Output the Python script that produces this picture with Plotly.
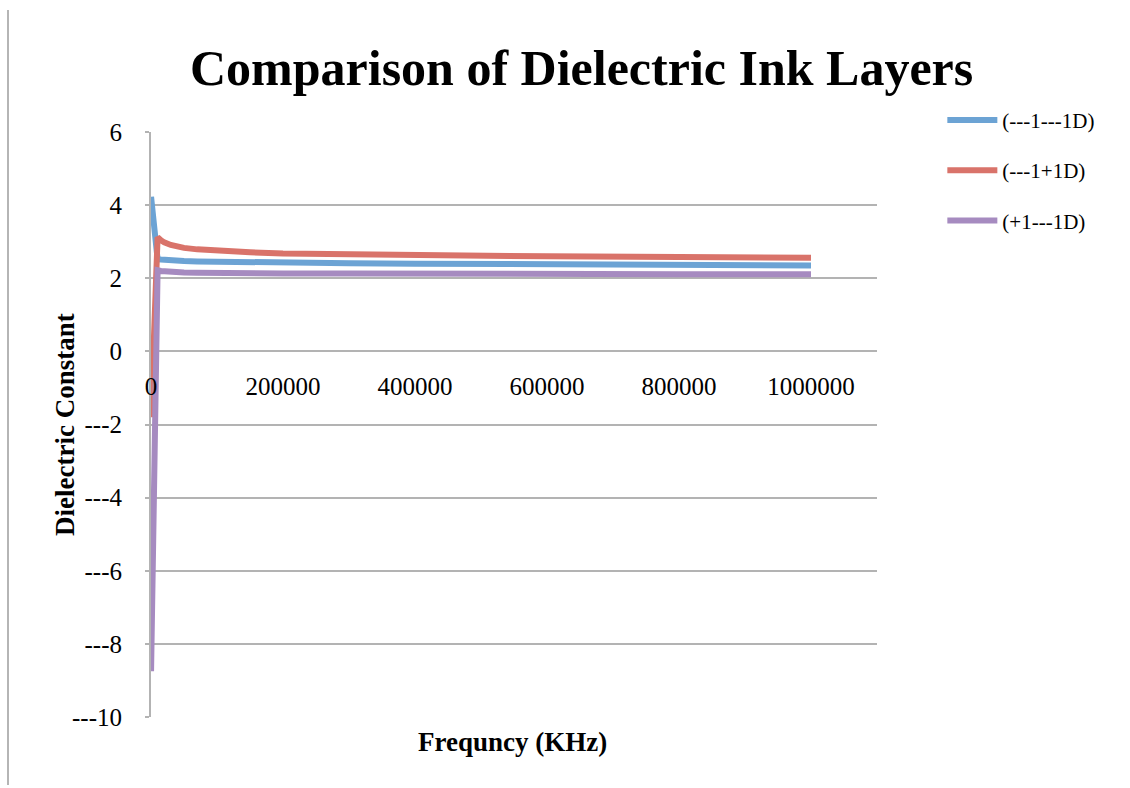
import plotly.graph_objects as go

# Frequency sweep points and measured dielectric constant for each ink layer stack
frequency = [100, 10000, 15000, 20000, 30000, 40000, 50000, 70000, 100000,
             150000, 200000, 300000, 400000, 600000, 800000, 1000000]
layer_m1_m1d = [4.23, 2.52, 2.51, 2.50, 2.49, 2.48, 2.47, 2.46, 2.45,
                2.43, 2.42, 2.41, 2.40, 2.38, 2.37, 2.35]
layer_m1_p1d = [-1.80, 3.12, 3.04, 2.98, 2.91, 2.86, 2.83, 2.79, 2.75,
                2.71, 2.68, 2.65, 2.63, 2.60, 2.58, 2.56]
layer_p1_m1d = [-8.75, 2.22, 2.20, 2.19, 2.17, 2.16, 2.16, 2.15, 2.14,
                2.14, 2.13, 2.13, 2.12, 2.12, 2.11, 2.11]

series_names = ["(---1---1D)", "(---1+1D)", "(+1---1D)"]
series_colors = ["#6CA3D4", "#D9736A", "#A68BC0"]

x_ticks = [0, 200000, 400000, 600000, 800000, 1000000]
x_tick_text = ["0", "200000", "400000", "600000", "800000", "1000000"]
y_ticks = [-10, -8, -6, -4, -2, 0, 2, 4, 6]
y_tick_text = ["---10", "---8", "---6", "---4", "---2", "0", "2", "4", "6"]

FONT = "Liberation Serif"
GRID = "#B3B3B3"

fig = go.Figure()
for name, values, color in zip(series_names,
                               [layer_m1_m1d, layer_m1_p1d, layer_p1_m1d],
                               series_colors):
    fig.add_trace(go.Scatter(
        x=frequency, y=values, name=name, mode="lines",
        line=dict(color=color, width=6),
        legendgroup=name,
    ))

fig.update_layout(
    width=1130, height=788,
    margin=dict(l=151, r=253, t=132, b=71),
    paper_bgcolor="white", plot_bgcolor="white",
    font=dict(family=FONT, color="black"),
    showlegend=True,
    legend=dict(
        x=1.09, y=1.055, xanchor="left", yanchor="top",
        font=dict(family=FONT, size=21, color="black"),
        tracegroupgap=20, itemwidth=50,
        bgcolor="rgba(0,0,0,0)",
    ),
    xaxis=dict(
        range=[0, 1100000], tickvals=x_ticks, ticktext=x_tick_text,
        showgrid=False, zeroline=False, showline=False, ticks="",
        anchor="free", position=0.625,
        tickfont=dict(family=FONT, size=25, color="black"),
        ticklabelstandoff=18,
    ),
    yaxis=dict(
        range=[-10, 6], tickvals=y_ticks, ticktext=y_tick_text,
        showgrid=True, gridcolor=GRID, gridwidth=2,
        zeroline=False, showline=True, linecolor=GRID, linewidth=2,
        ticks="outside", ticklen=4, tickcolor=GRID, tickwidth=2,
        tickfont=dict(family=FONT, size=25, color="black"),
        ticklabelstandoff=18,
    ),
    annotations=[
        dict(text="<b>Comparison of Dielectric Ink Layers</b>",
             xref="paper", yref="paper", x=(581 - 151) / 726, y=(717 - 68) / 585,
             xanchor="center", yanchor="middle", showarrow=False,
             font=dict(family=FONT, size=50, color="black")),
        dict(text="<b>Frequncy (KHz)</b>",
             xref="paper", yref="paper", x=(512 - 151) / 726, y=(717 - 742) / 585,
             xanchor="center", yanchor="middle", showarrow=False,
             font=dict(family=FONT, size=27, color="black")),
        dict(text="<b>Dielectric Constant</b>", textangle=-90,
             xref="paper", yref="paper", x=(65 - 151) / 726, y=(717 - 425) / 585,
             xanchor="center", yanchor="middle", showarrow=False,
             font=dict(family=FONT, size=27, color="black")),
    ],
    shapes=[
        dict(type="line", xref="paper", yref="paper",
             x0=(8 - 151) / 726, x1=(8 - 151) / 726,
             y0=(717 - 10) / 585, y1=(717 - 785) / 585,
             line=dict(color="#B5B5B5", width=2)),
    ],
)

fig.write_html("out.html")
